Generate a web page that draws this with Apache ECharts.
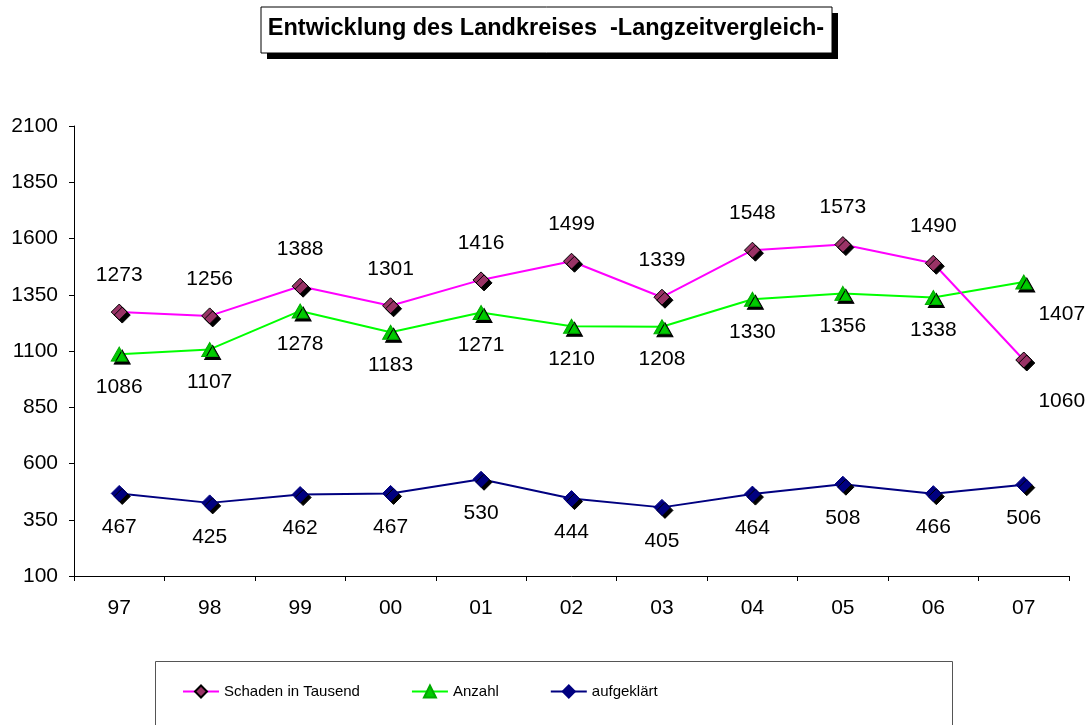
<!DOCTYPE html>
<html>
<head>
<meta charset="utf-8">
<script src="https://cdn.jsdelivr.net/npm/echarts@6/dist/echarts.min.js"></script>
<style>
  html, body { margin: 0; padding: 0; background: #fff; }
  #main { width: 1088px; height: 725px; }
</style>
</head>
<body>
<div id="main"></div>
<script>
// Jahre
var jahre = ['97', '98', '99', '00', '01', '02', '03', '04', '05', '06', '07'];
// Reihen
var schaden = [1273, 1256, 1388, 1301, 1416, 1499, 1339, 1548, 1573, 1490, 1060];
var anzahl = [1086, 1107, 1278, 1183, 1271, 1210, 1208, 1330, 1356, 1338, 1407];
var aufgeklaert = [467, 425, 462, 467, 530, 444, 405, 464, 508, 466, 506];

var font = 'Liberation Sans, Arial, sans-serif';
var myChart = echarts.init(document.getElementById('main'));

// letzter Punkt hat verschobenes Label
function withLast(values, lastLabel) {
    return values.map(function (v, i) {
        if (i === values.length - 1) {
            return { value: v, label: lastLabel };
        }
        return v;
    });
}

var shadow = {
    shadowColor: '#000',
    shadowBlur: 0,
    shadowOffsetX: 3,
    shadowOffsetY: 3
};

var option = {
    animation: false,
    backgroundColor: '#fff',
    // Rahmen um Titel und Legende
    graphic: [
        { type: 'rect', z: 0, shape: { x: 267, y: 13, width: 571, height: 46 }, style: { fill: '#000' } },
        { type: 'rect', z: 1, shape: { x: 261, y: 7, width: 571, height: 46 }, style: { fill: '#fff', stroke: '#000', lineWidth: 1 } },
        { type: 'rect', z: 0, shape: { x: 155.5, y: 661.5, width: 797, height: 90 }, style: { fill: '#fff', stroke: '#555', lineWidth: 1 } }
    ],
    title: {
        text: 'Entwicklung des Landkreises  -Langzeitvergleich-',
        left: 546,
        textAlign: 'center',
        top: 17,
        padding: 0,
        z: 5,
        textStyle: {
            fontFamily: font,
            fontSize: 23.5,
            fontWeight: 'bold',
            color: '#000'
        }
    },
    legend: {
        left: 182,
        top: 684,
        padding: 0,
        itemGap: 51,
        itemWidth: 36,
        itemHeight: 15,
        z: 5,
        textStyle: { fontFamily: font, fontSize: 15, color: '#000' },
        data: ['Schaden in Tausend', 'Anzahl', 'aufgeklärt']
    },
    grid: {
        left: 74,
        right: 19,
        top: 126,
        bottom: 149
    },
    xAxis: {
        type: 'category',
        data: jahre,
        boundaryGap: true,
        axisLine: { lineStyle: { color: '#000', width: 1 } },
        axisTick: { show: true, length: 5, lineStyle: { color: '#000' } },
        axisLabel: { color: '#000', fontFamily: font, fontSize: 21, margin: 22 },
        splitLine: { show: false }
    },
    yAxis: {
        type: 'value',
        min: 100,
        max: 2100,
        interval: 250,
        axisLine: { show: true, lineStyle: { color: '#000', width: 1 } },
        axisTick: { show: true, length: 5, lineStyle: { color: '#000' } },
        axisLabel: {
            color: '#000', fontFamily: font, fontSize: 21, margin: 16,
            formatter: function (v) { return String(v); }
        },
        splitLine: { show: false }
    },
    series: [
        {
            name: 'Schaden in Tausend',
            type: 'line',
            data: withLast(schaden, { position: 'bottom', distance: 22, offset: [38, 0] }),
            symbol: 'diamond',
            symbolSize: [16, 16],
            lineStyle: { color: '#ff00ff', width: 2 },
            itemStyle: Object.assign({ color: '#993366', borderColor: '#000', borderWidth: 1 }, shadow),
            label: {
                show: true,
                position: 'top',
                distance: 18,
                color: '#000',
                fontFamily: font,
                fontSize: 21
            },
            z: 3
        },
        {
            name: 'Anzahl',
            type: 'line',
            data: withLast(anzahl, { position: 'bottom', distance: 15, offset: [38, -1] }),
            symbol: 'triangle',
            symbolSize: [16, 14],
            lineStyle: { color: '#00ff00', width: 2 },
            itemStyle: Object.assign({ color: '#00cc00', borderColor: '#00aa00', borderWidth: 1 }, shadow),
            label: {
                show: true,
                position: 'bottom',
                distance: 15,
                color: '#000',
                fontFamily: font,
                fontSize: 21
            },
            z: 2
        },
        {
            name: 'aufgeklärt',
            type: 'line',
            data: aufgeklaert,
            symbol: 'diamond',
            symbolSize: [16, 16],
            lineStyle: { color: '#000080', width: 2 },
            itemStyle: Object.assign({ color: '#000080', borderColor: '#000080', borderWidth: 1 }, shadow),
            label: {
                show: true,
                position: 'bottom',
                distance: 15,
                color: '#000',
                fontFamily: font,
                fontSize: 21
            },
            z: 2
        }
    ]
};
myChart.setOption(option);
</script>
</body>
</html>
